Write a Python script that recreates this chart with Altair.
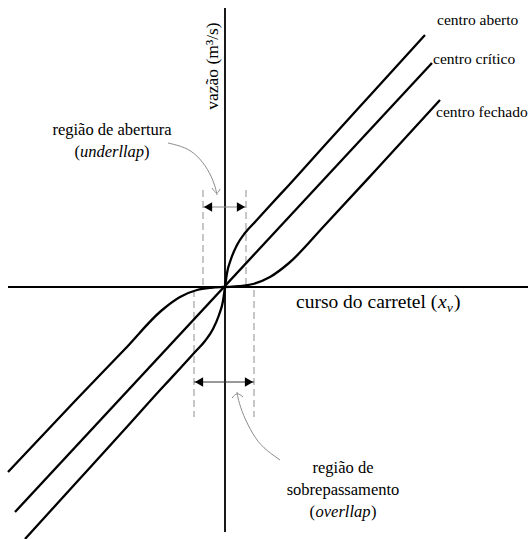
import altair as alt
import pandas as pd

# Drawing units: spool travel (x) and flow rate (y), origin at the axes crossing
X_DOMAIN = [-225, 303]
Y_DOMAIN = [-252, 287]

# Flow characteristics of the three spool-valve centre types
aberto_x = [-200, -150, -100, -64, -45, -30, -20, -12, -6, -2, 0,
            2, 6, 12, 20, 30, 45, 64, 100, 150, 200]
aberto_y = [-252, -197, -142, -102, -81.5, -65, -54, -42, -28, -14, 0,
            14, 28, 42, 54, 65, 81.5, 102, 142, 197, 252]
critico_x = [-210, 207]
critico_y = [-225, 224]
fechado_x = [-217, -150, -100, -64, -45, -28, -14, 0, 14, 28, 45, 64, 100, 150, 215]
fechado_y = [-185, -114, -62, -24, -10, -3, -0.8, 0, 0.8, 3, 10, 24, 62, 116, 187]

# Axes extents
axis_h = {"x": -217, "x2": 303, "y": 0, "y2": 0}
axis_v = {"x": 0, "x2": 0, "y": 279, "y2": -245}

# Limits of the underlap / overlap regions
underlap_lo, underlap_hi = -22, 21
overlap_lo, overlap_hi = -31, 29
underlap_guide_y = [97, 2]
overlap_guide_y = [-3, -130]
underlap_arrow_y = 80
overlap_arrow_y = -95

# Curved pointers from the region captions
ptr_under_x = [-57, -40, -28, -17, -10, -8]
ptr_under_y = [144, 140, 132, 118, 102, 92]
ptr_over_x = [55, 38, 28, 18, 13, 12]
ptr_over_y = [-173, -161, -148, -128, -112, -105]

FONT = "Liberation Serif"
W, H = 528, 539

xs = alt.Scale(domain=X_DOMAIN, nice=False, zero=False)
ys = alt.Scale(domain=Y_DOMAIN, nice=False, zero=False)


def xy(chart, order=False):
    enc = dict(x=alt.X("x:Q", scale=xs, axis=None), y=alt.Y("y:Q", scale=ys, axis=None))
    if order:
        enc["order"] = alt.Order("i:Q")
    return chart.encode(**enc)


def rules(df, **mark):
    return alt.Chart(df).mark_rule(**mark).encode(
        x=alt.X("x:Q", scale=xs, axis=None), x2="x2:Q",
        y=alt.Y("y:Q", scale=ys, axis=None), y2="y2:Q")


def text(df, **mark):
    base = dict(font=FONT, color="black", baseline="middle")
    base.update(mark)
    return xy(alt.Chart(df).mark_text(**base)).encode(text="t:N")


# --- axes
axes = rules(pd.DataFrame([axis_h, axis_v]), color="black", strokeWidth=1.8)

# --- dashed region limits
guides = pd.DataFrame([
    {"x": underlap_lo, "x2": underlap_lo, "y": underlap_guide_y[0], "y2": underlap_guide_y[1]},
    {"x": underlap_hi, "x2": underlap_hi, "y": underlap_guide_y[0], "y2": underlap_guide_y[1]},
    {"x": overlap_lo, "x2": overlap_lo, "y": overlap_guide_y[0], "y2": overlap_guide_y[1]},
    {"x": overlap_hi, "x2": overlap_hi, "y": overlap_guide_y[0], "y2": overlap_guide_y[1]},
])
dashed = rules(guides, color="#9a9a9a", strokeWidth=1.1, strokeDash=[7, 4])

# --- characteristic curves
rows = []
for name, cx, cy in [("centro aberto", aberto_x, aberto_y),
                     ("centro crítico", critico_x, critico_y),
                     ("centro fechado", fechado_x, fechado_y)]:
    for i, (a, b) in enumerate(zip(cx, cy)):
        rows.append({"curve": name, "i": i, "x": a, "y": b})
curves = xy(alt.Chart(pd.DataFrame(rows)).mark_line(
    color="black", strokeWidth=2.3, interpolate="monotone"), order=True).encode(detail="curve:N")

# --- double-headed dimension arrows
dim_under = rules(pd.DataFrame([{"x": underlap_lo, "x2": underlap_hi,
                                 "y": underlap_arrow_y, "y2": underlap_arrow_y}]),
                  color="#8a8a8a", strokeWidth=1.2)
dim_over = rules(pd.DataFrame([{"x": overlap_lo, "x2": overlap_hi,
                                "y": overlap_arrow_y, "y2": overlap_arrow_y}]),
                 color="#333333", strokeWidth=1.2)
heads_left = xy(alt.Chart(pd.DataFrame([
    {"x": underlap_lo + 5, "y": underlap_arrow_y},
    {"x": overlap_lo + 5, "y": overlap_arrow_y}])).mark_point(
    shape="triangle-left", filled=True, color="black", size=90, opacity=1))
heads_right = xy(alt.Chart(pd.DataFrame([
    {"x": underlap_hi - 5, "y": underlap_arrow_y},
    {"x": overlap_hi - 5, "y": overlap_arrow_y}])).mark_point(
    shape="triangle-right", filled=True, color="black", size=90, opacity=1))

# --- curved pointers with open arrowheads
ptr_rows = []
for name, px, py in [("under", ptr_under_x, ptr_under_y), ("over", ptr_over_x, ptr_over_y)]:
    for i, (a, b) in enumerate(zip(px, py)):
        ptr_rows.append({"p": name, "i": i, "x": a, "y": b})
# open arrowhead arms at each pointer tip
tip_u = (ptr_under_x[-1], ptr_under_y[-1])
tip_o = (ptr_over_x[-1], ptr_over_y[-1])
for name, pts in [("head_u", [(tip_u[0] - 5, tip_u[1] + 7), tip_u, (tip_u[0] + 3, tip_u[1] + 6)]),
                  ("head_o", [(tip_o[0] - 5, tip_o[1] - 6), tip_o, (tip_o[0] + 6, tip_o[1] - 5)])]:
    for i, (a, b) in enumerate(pts):
        ptr_rows.append({"p": name, "i": i, "x": a, "y": b})
pointers = xy(alt.Chart(pd.DataFrame(ptr_rows)).mark_line(
    color="#8c8c8c", strokeWidth=1, interpolate="basis"), order=True).encode(detail="p:N")

# --- labels
curve_labels = text(pd.DataFrame([
    {"x": 212, "y": 267, "t": "centro aberto"},
    {"x": 208, "y": 228, "t": "centro crítico"},
    {"x": 211, "y": 175, "t": "centro fechado"},
]), align="left", fontSize=15.5)

y_title = text(pd.DataFrame([{"x": -12, "y": 221, "t": "vazão (m³/s)"}]),
               align="center", angle=270, fontSize=17.5)

x_base = 71
x_y = -15
x_title = alt.layer(
    text(pd.DataFrame([{"x": x_base, "y": x_y, "t": "curso do carretel ("}]),
         align="left", fontSize=19.5),
    text(pd.DataFrame([{"x": x_base, "y": x_y, "t": "x"}]),
         align="left", fontSize=19.5, fontStyle="italic", dx=142),
    text(pd.DataFrame([{"x": x_base, "y": x_y, "t": "v"}]),
         align="left", fontSize=13, fontStyle="italic", dx=151, dy=6),
    text(pd.DataFrame([{"x": x_base, "y": x_y, "t": ")"}]),
         align="left", fontSize=19.5, dx=158),
)

under_cx, over_cx = -113, 118
region_labels = alt.layer(
    text(pd.DataFrame([{"x": under_cx, "y": 157, "t": "região de abertura"}]),
         align="center", fontSize=16.5),
    text(pd.DataFrame([{"x": under_cx, "y": 135, "t": "underllap"}]),
         align="center", fontSize=16.5, fontStyle="italic"),
    text(pd.DataFrame([{"x": under_cx, "y": 135, "t": "("}]),
         align="right", fontSize=16.5, dx=-32),
    text(pd.DataFrame([{"x": under_cx, "y": 135, "t": ")"}]),
         align="left", fontSize=16.5, dx=32),
    text(pd.DataFrame([{"x": over_cx, "y": -181, "t": "região de"}]),
         align="center", fontSize=16.5),
    text(pd.DataFrame([{"x": over_cx, "y": -203, "t": "sobrepassamento"}]),
         align="center", fontSize=16.5),
    text(pd.DataFrame([{"x": over_cx, "y": -225, "t": "overllap"}]),
         align="center", fontSize=16.5, fontStyle="italic"),
    text(pd.DataFrame([{"x": over_cx, "y": -225, "t": "("}]),
         align="right", fontSize=16.5, dx=-28),
    text(pd.DataFrame([{"x": over_cx, "y": -225, "t": ")"}]),
         align="left", fontSize=16.5, dx=28),
)

chart = alt.layer(
    dashed, pointers, axes, dim_under, dim_over, heads_left, heads_right,
    curves, curve_labels, y_title, x_title, region_labels,
).properties(
    width=W, height=H, padding=0, autosize=alt.AutoSizeParams(type="none"),
    background="white",
).configure_view(stroke=None)

chart.save("out.html", embed_options={"renderer": "svg", "actions": False})
